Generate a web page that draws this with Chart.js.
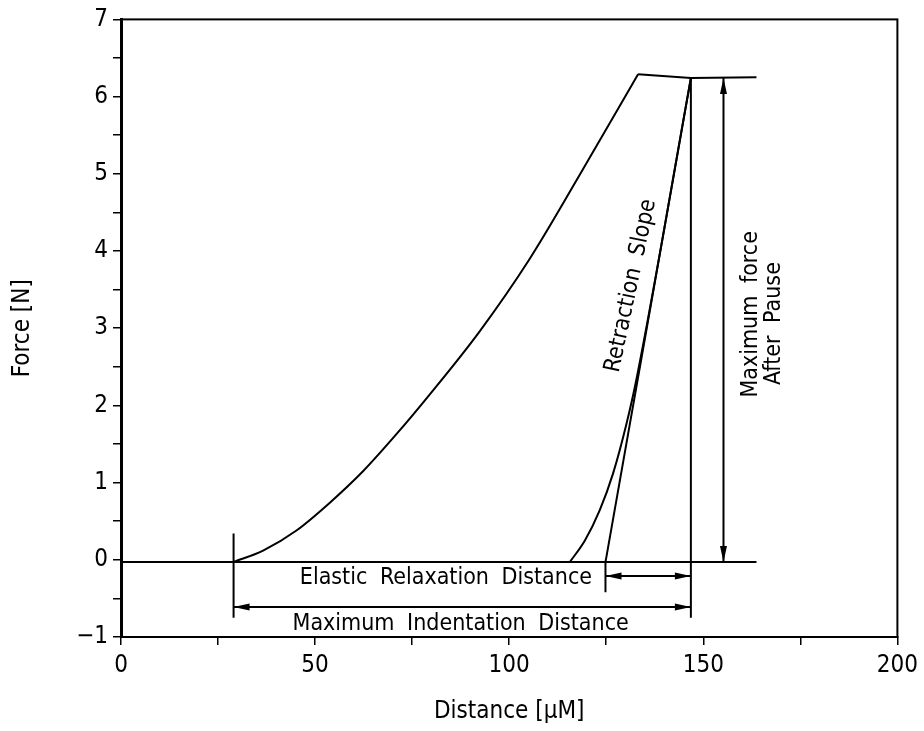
<!DOCTYPE html>
<html>
<head>
<meta charset="utf-8">
<script src="https://cdn.jsdelivr.net/npm/chart.js@4/dist/chart.umd.min.js"></script>
<style>
  html, body { margin: 0; padding: 0; background: #fff; }
  #wrap { width: 924px; height: 731px; }
</style>
</head>
<body>
<div id="wrap"><canvas id="forceChart"></canvas></div>
<script>
// loading curve (indenter pushed in)
const loadX = [28.9, 36.6, 45.2, 53.8, 62.4, 71.0, 79.5, 92.4, 105.3, 118.1, 133.2];
const loadY = [-0.03, 0.12, 0.38, 0.74, 1.15, 1.63, 2.14, 2.96, 3.90, 4.98, 6.29];

// pause at max load
const plateauX = [133.2, 146.8, 163.7];
const plateauY = [6.29, 6.24, 6.25];

// unloading curve
const unloadX = [115.6, 119.5, 123.3, 126.7, 130.2, 132.7, 146.8];
const unloadY = [-0.03, 0.25, 0.64, 1.11, 1.76, 2.32, 6.24];

// straight retraction slope
const slopeX = [124.8, 146.8];
const slopeY = [-0.03, 6.24];

// zero line
const baseX = [0, 163.7];
const baseY = [-0.03, -0.03];

// extension lines for the dimensions
const extStartX = [29, 29];
const extStartY = [0.34, -0.75];
const extEndX = [146.8, 146.8];
const extEndY = [6.24, -0.75];
const extSlopeX = [124.8, 124.8];
const extSlopeY = [-0.03, -0.42];

// dimension arrows (both ends get a head)
const elasticX = [124.8, 146.8];
const elasticY = [-0.21, -0.21];
const indentX = [29, 146.8];
const indentY = [-0.61, -0.61];
const forceX = [155.2, 155.2];
const forceY = [-0.03, 6.24];

const xTickLabels = [0, 50, 100, 150, 200];
const yTickLabels = [-1, 0, 1, 2, 3, 4, 5, 6, 7];

const FONT = "'DejaVu Sans Condensed', 'Liberation Sans Narrow', 'DejaVu Sans', sans-serif";
Chart.defaults.font.family = FONT;
Chart.defaults.color = '#000';

function pts(xs, ys) {
    return xs.map((x, i) => ({ x: x, y: ys[i] }));
}

function lineSet(xs, ys, smooth) {
    return {
        data: pts(xs, ys),
        showLine: true,
        borderColor: '#000',
        borderWidth: 2,
        pointRadius: 0,
        fill: false,
        tension: 0,
        cubicInterpolationMode: smooth ? 'monotone' : 'default'
    };
}

// little filled arrow head pointing at (tx, ty)
function head(ctx, fx, fy, tx, ty) {
    const a = Math.atan2(ty - fy, tx - fx);
    const len = 16, w = 3.5;
    ctx.beginPath();
    ctx.moveTo(tx, ty);
    ctx.lineTo(tx - len * Math.cos(a) + w * Math.sin(a), ty - len * Math.sin(a) - w * Math.cos(a));
    ctx.lineTo(tx - len * Math.cos(a) - w * Math.sin(a), ty - len * Math.sin(a) + w * Math.cos(a));
    ctx.closePath();
    ctx.fill();
}

const annotate = {
    id: 'annotate',
    afterDatasetsDraw(chart) {
        const ctx = chart.ctx;
        const px = v => chart.scales.x.getPixelForValue(v);
        const py = v => chart.scales.y.getPixelForValue(v);
        const area = chart.chartArea;

        ctx.save();
        // frame round the plot
        ctx.strokeStyle = '#000';
        ctx.lineWidth = 2;
        ctx.strokeRect(area.left, area.top, area.right - area.left, area.bottom - area.top);

        // arrow heads
        ctx.fillStyle = '#000';
        [[elasticX, elasticY], [indentX, indentY], [forceX, forceY]].forEach(d => {
            const ax = px(d[0][0]), ay = py(d[1][0]);
            const bx = px(d[0][1]), by = py(d[1][1]);
            head(ctx, ax, ay, bx, by);
            head(ctx, bx, by, ax, ay);
        });

        // labels
        ctx.font = '23px ' + FONT;
        ctx.textAlign = 'center';
        ctx.textBaseline = 'middle';
        if ('wordSpacing' in ctx) ctx.wordSpacing = '6px';

        function label(text, x, y, deg) {
            ctx.save();
            ctx.translate(px(x), py(y));
            ctx.rotate(deg * Math.PI / 180);
            ctx.fillText(text, 0, 0);
            ctx.restore();
        }
        label('Elastic Relaxation Distance', 83.7, -0.24, 0);
        label('Maximum Indentation Distance', 87.5, -0.83, 0);
        label('Retraction Slope', 131.4, 3.55, -78);
        label('Maximum force', 162.4, 3.18, -90);
        label('After Pause', 168.1, 3.06, -90);
        ctx.restore();
    }
};

new Chart(document.getElementById('forceChart'), {
    type: 'scatter',
    data: {
        datasets: [
            lineSet(baseX, baseY, false),
            lineSet(loadX, loadY, true),
            lineSet(plateauX, plateauY, false),
            lineSet(unloadX, unloadY, true),
            lineSet(slopeX, slopeY, false),
            lineSet(extStartX, extStartY, false),
            lineSet(extEndX, extEndY, false),
            lineSet(extSlopeX, extSlopeY, false),
            lineSet(elasticX, elasticY, false),
            lineSet(indentX, indentY, false),
            lineSet(forceX, forceY, false)
        ]
    },
    options: {
        responsive: true,
        maintainAspectRatio: false,
        animation: false,
        layout: { padding: { top: 17, right: 26, left: 0, bottom: 0 } },
        plugins: {
            legend: { display: false },
            tooltip: { enabled: false }
        },
        scales: {
            x: {
                type: 'linear',
                min: 0,
                max: 200,
                afterFit: s => { s.height = 94; },
                ticks: {
                    stepSize: 25,
                    autoSkip: false,
                    maxRotation: 0,
                    padding: 6,
                    font: { size: 24 },
                    callback: v => xTickLabels.includes(v) ? String(v) : ''
                },
                grid: { drawOnChartArea: false, drawTicks: true, tickLength: 8, color: '#000', lineWidth: 1.5 },
                border: { display: true, color: '#000', width: 2 },
                title: { display: true, text: 'Distance [μM]', font: { size: 24 }, padding: { top: 0, bottom: 5 } }
            },
            y: {
                type: 'linear',
                min: -1,
                max: 7,
                afterFit: s => { s.width = 121; },
                ticks: {
                    stepSize: 0.5,
                    autoSkip: false,
                    padding: 5,
                    font: { size: 24 },
                    callback: v => yTickLabels.includes(v) ? (v < 0 ? '−' + Math.abs(v) : String(v)) : ''
                },
                grid: { drawOnChartArea: false, drawTicks: true, tickLength: 8, color: '#000', lineWidth: 1.5 },
                border: { display: true, color: '#000', width: 3 },
                title: { display: true, text: 'Force [N]', font: { size: 24 }, padding: { top: 8, bottom: 0 } }
            }
        }
    },
    plugins: [annotate]
});
</script>
</body>
</html>
